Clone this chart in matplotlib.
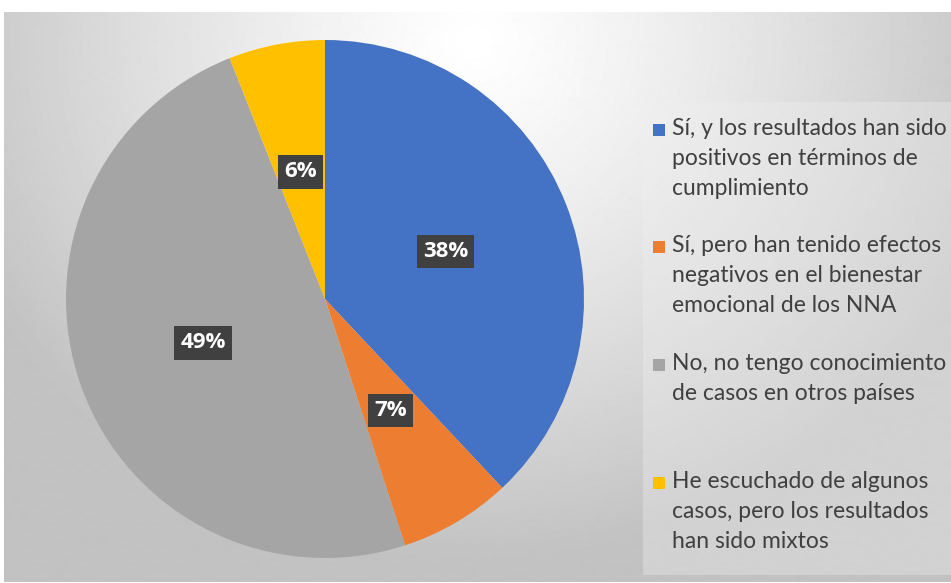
"""Pie chart of responses about experiences in other countries."""

from matplotlib import pyplot
from matplotlib.patches import Rectangle
import numpy

labels = ['Sí, y los resultados han sido\npositivos en términos de\ncumplimiento',
          'Sí, pero han tenido efectos\nnegativos en el bienestar\nemocional de los NNA',
          'No, no tengo conocimiento\nde casos en otros países',
          'He escuchado de algunos\ncasos, pero los resultados\nhan sido mixtos']
values = [38, 7, 49, 6]
colors = ['#4472C4', '#ED7D31', '#A5A5A5', '#FFC000']

W, H = 951, 583
fig = pyplot.figure(figsize=(W / 100, H / 100), dpi=100)
fig.patch.set_facecolor('white')

# Background with a soft radial gradient (chart area below a white strip).
bg = fig.add_axes([4 / W, 0, 1 - 4 / W, (H - 12) / H])
bg.set_axis_off()
yy, xx = numpy.mgrid[0:571, 0:947]
dist = numpy.sqrt(((xx - 470) / 560.0) ** 2 + ((yy - 30) / 520.0) ** 2)
shade = 1.0 - 0.24 * numpy.clip(dist, 0, 1) ** 1.2
bg.imshow(shade, cmap='gray', vmin=0, vmax=1, aspect='auto',
          interpolation='bilinear')
bg.set_xlim(0, 947)
bg.set_ylim(571, 0)

# Slightly lighter box behind the legend.
fig.patches.append(Rectangle((643 / W, 8 / H), (W - 643) / W, (481 - 8) / H,
                             transform=fig.transFigure, facecolor='#f0f0f0',
                             edgecolor='none', alpha=0.35, zorder=1))

# Pie centred at (325, 299) px with radius 259 px.
r = 259
ax = fig.add_axes([(325 - r) / W, (H - 299 - r) / H, 2 * r / W, 2 * r / H])
ax.set_facecolor('none')
wedges, texts, autotexts = ax.pie(
    values, colors=colors, startangle=90, counterclock=False,
    autopct='%1.0f%%', pctdistance=0.5, radius=1.0,
    wedgeprops=dict(linewidth=0))
for t in autotexts:
    t.set_color('white')
    t.set_fontsize(16)
    t.set_fontweight('bold')
    t.set_family('Open Sans')
    t.set_bbox(dict(boxstyle='square,pad=0.28', facecolor='#404040',
                    edgecolor='none'))
ax.set_xlim(-1, 1)
ax.set_ylim(-1, 1)
ax.set_aspect('equal')

# Legend drawn by hand: square marker beside the first line of each entry.
first_line_y = [130, 247, 365, 483]  # pixel rows of the first text line
for label, color, ypix in zip(labels, colors, first_line_y):
    fig.patches.append(Rectangle((653 / W, (H - ypix - 6) / H), 12 / W, 12 / H,
                                 transform=fig.transFigure, facecolor=color,
                                 edgecolor='none', zorder=3))
    fig.text(672 / W, (H - ypix + 12) / H, label, ha='left', va='top',
             family='Lato', fontsize=16.5, color='#404040',
             linespacing=1.52, zorder=3)

fig.savefig('out.png', dpi=100)
